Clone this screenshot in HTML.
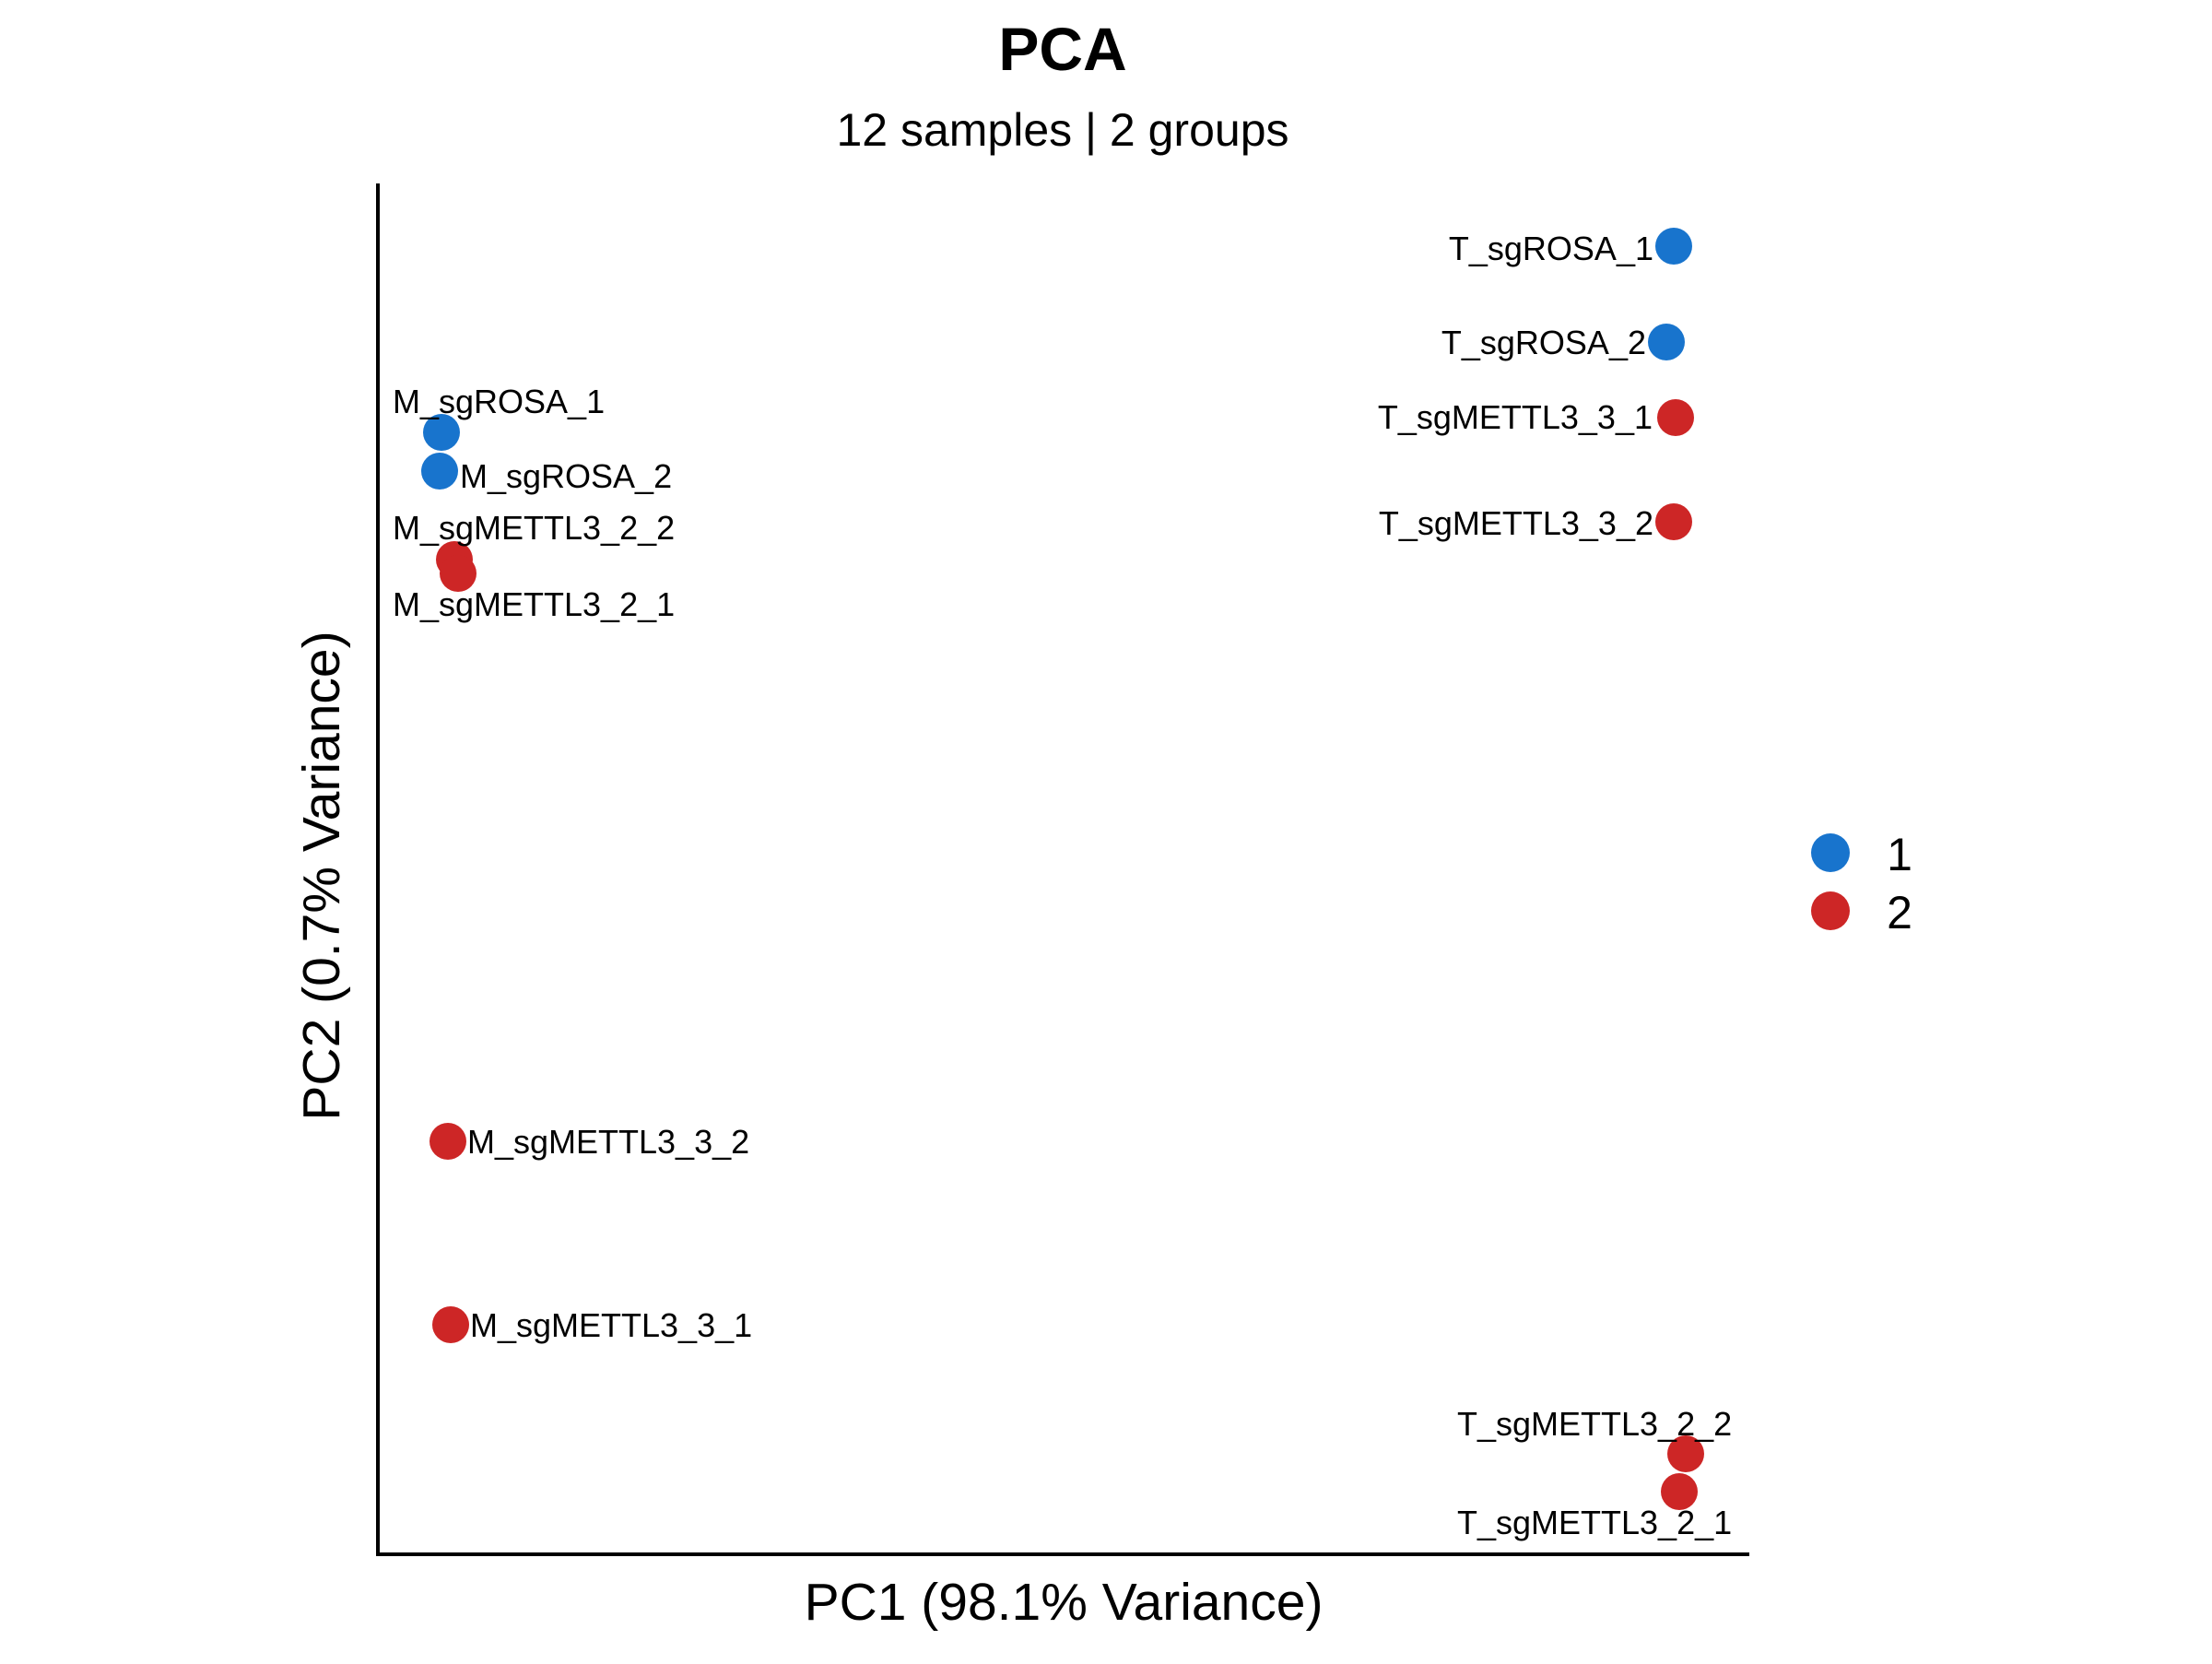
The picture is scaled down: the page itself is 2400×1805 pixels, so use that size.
<!DOCTYPE html>
<html><head><meta charset="utf-8"><style>html,body{margin:0;padding:0;background:#fff}</style></head>
<body>
<svg width="2400" height="1800" viewBox="0 0 2400 1800" xmlns="http://www.w3.org/2000/svg" font-family="Liberation Sans, Arial, sans-serif">
<rect width="2400" height="1800" fill="#fff"/>
<text x="1153" y="76" font-size="66" font-weight="bold" text-anchor="middle">PCA</text>
<text x="1153" y="158" font-size="50" text-anchor="middle">12 samples | 2 groups</text>
<line x1="410" y1="199" x2="410" y2="1688" stroke="#000" stroke-width="4"/>
<line x1="408" y1="1686" x2="1898" y2="1686" stroke="#000" stroke-width="4"/>
<text x="1154" y="1757" font-size="57" text-anchor="middle">PC1 (98.1% Variance)</text>
<text transform="translate(368,950) rotate(-90)" font-size="57" text-anchor="middle">PC2 (0.7% Variance)</text>
<g fill="#1874CD">
<circle cx="479" cy="469" r="20"/>
<circle cx="477" cy="511" r="20"/>
<circle cx="1816" cy="267" r="20"/>
<circle cx="1808" cy="371" r="20"/>
</g>
<g fill="#CD2626">
<circle cx="493" cy="607" r="20"/>
<circle cx="497" cy="622" r="20"/>
<circle cx="486" cy="1238" r="20"/>
<circle cx="489" cy="1437" r="20"/>
<circle cx="1818" cy="453" r="20"/>
<circle cx="1816" cy="566" r="20"/>
<circle cx="1829" cy="1577" r="20"/>
<circle cx="1822" cy="1618" r="20"/>
</g>
<g font-size="36" fill="#000">
<text x="426" y="448">M_sgROSA_1</text>
<text x="499" y="529">M_sgROSA_2</text>
<text x="426" y="585">M_sgMETTL3_2_2</text>
<text x="426" y="668">M_sgMETTL3_2_1</text>
<text x="507" y="1251">M_sgMETTL3_3_2</text>
<text x="510" y="1450">M_sgMETTL3_3_1</text>
<text x="1581" y="1557">T_sgMETTL3_2_2</text>
<text x="1581" y="1664">T_sgMETTL3_2_1</text>
<g text-anchor="end">
<text x="1794" y="282">T_sgROSA_1</text>
<text x="1786" y="384">T_sgROSA_2</text>
<text x="1793" y="465">T_sgMETTL3_3_1</text>
<text x="1794" y="580">T_sgMETTL3_3_2</text>
</g>
</g>
<circle cx="1986" cy="925" r="21" fill="#1874CD"/>
<circle cx="1986" cy="988" r="21" fill="#CD2626"/>
<text x="2061" y="944" font-size="50" text-anchor="middle">1</text>
<text x="2061" y="1007" font-size="50" text-anchor="middle">2</text>
</svg>
</body></html>
